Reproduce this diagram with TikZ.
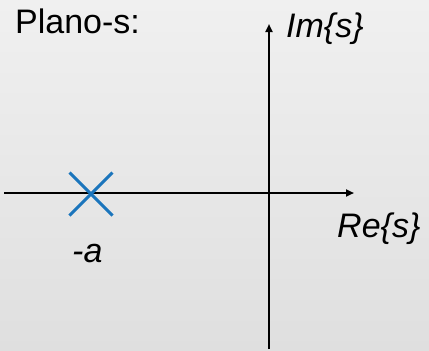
\documentclass[tikz,border=0pt]{standalone}
\usepackage{fontspec}
\setmainfont{Liberation Sans}
\usetikzlibrary{arrows.meta,calc}
\definecolor{bgtop}{HTML}{F0F0F0}
\definecolor{bgbot}{HTML}{DFDFDF}
\definecolor{polecol}{HTML}{1B75BC}
\begin{document}
\begin{tikzpicture}[x=1pt,y=-1pt,
  axis/.style={line width=2pt,-{Triangle[length=8pt,width=7pt]}},
  lbl/.style={inner sep=0pt,font=\fontsize{34}{40}\selectfont},
  pole/.style={polecol,line width=3pt}]
\shade[top color=bgtop,bottom color=bgbot] (0,0) rectangle (429,351);
\useasboundingbox (0,0) rectangle (429,351);
% axes
\coordinate (hs) at (4,193);
\coordinate (he) at (354,193);
\coordinate (vs) at (269,349);
\coordinate (ve) at (269,24);
\draw[axis] (hs) -- (he);
\draw[axis] (vs) -- (ve);
% pole
\coordinate (p) at (91,194);
\draw[pole] ($(p)+(-21.5,-21.5)$) -- ($(p)+(21.5,21.5)$);
\draw[pole] ($(p)+(-21.5,21.5)$) -- ($(p)+(21.5,-21.5)$);
% labels
\node[lbl,anchor=base west] (plano) at (15,33) {Plano-s:};
\node[lbl,anchor=base west] (im) at (286,37) {\itshape Im\{s\}};
\node[lbl,anchor=base west] (re) at (337,237) {\itshape Re\{s\}};
\node[lbl,anchor=base west] (a) at (72,262) {\itshape -a};
\end{tikzpicture}
\end{document}
